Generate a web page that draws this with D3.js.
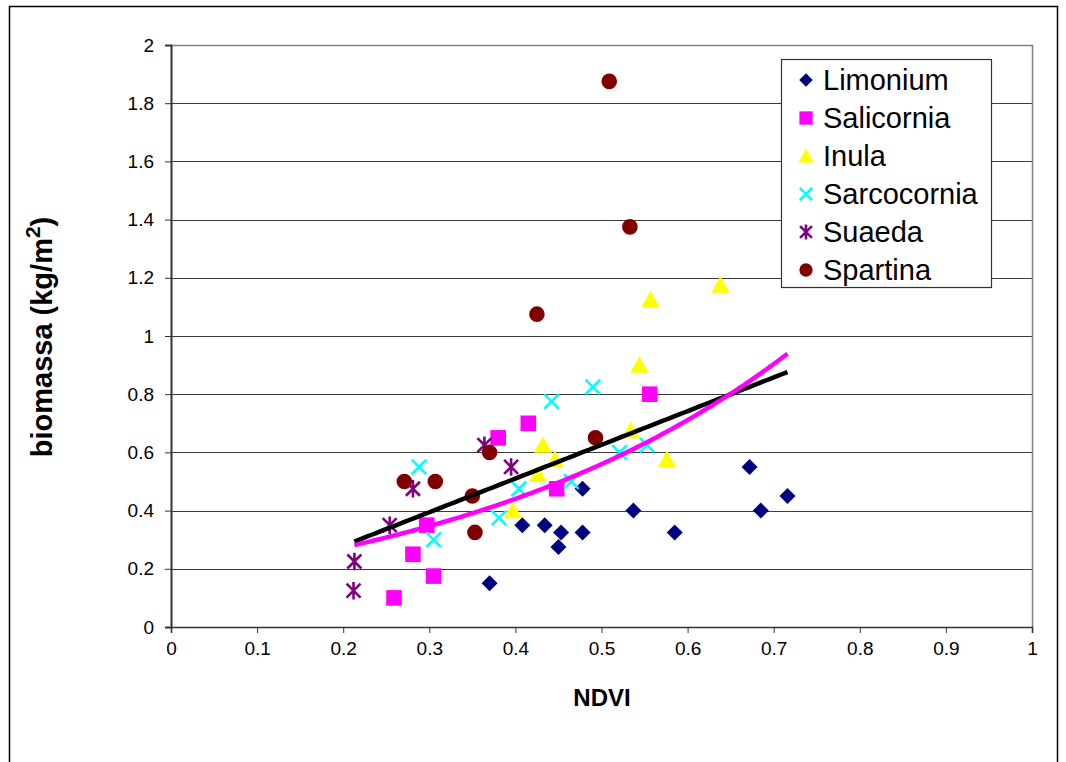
<!DOCTYPE html>
<html><head><meta charset="utf-8">
<script src="https://cdn.jsdelivr.net/npm/d3@7"></script>
<style>body{margin:0;background:#fff}svg{display:block}text{font-family:"Liberation Sans",Arial,sans-serif}</style>
</head><body><svg id="c" width="1066" height="762"></svg>
<script>
const seriesNames = ["Limonium","Salicornia","Inula","Sarcocornia","Suaeda","Spartina"];
const limoniumX = [0.370,0.408,0.434,0.450,0.453,0.478,0.478,0.537,0.585,0.672,0.685,0.716];
const limoniumY = [0.150,0.350,0.350,0.275,0.325,0.325,0.475,0.400,0.325,0.550,0.400,0.450];
const salicorniaX = [0.259,0.281,0.297,0.305,0.380,0.415,0.448,0.556];
const salicorniaY = [0.100,0.250,0.350,0.175,0.650,0.700,0.475,0.800];
const inulaX = [0.397,0.426,0.432,0.446,0.534,0.576,0.544,0.557,0.638];
const inulaY = [0.400,0.525,0.625,0.575,0.675,0.575,0.900,1.125,1.175];
const sarcocorniaX = [0.288,0.305,0.381,0.404,0.442,0.465,0.490,0.521,0.553];
const sarcocorniaY = [0.550,0.300,0.375,0.475,0.775,0.500,0.825,0.600,0.625];
const suaedaX = [0.213,0.212,0.254,0.281,0.364,0.395];
const suaedaY = [0.225,0.125,0.350,0.475,0.625,0.550];
const spartinaX = [0.271,0.307,0.350,0.353,0.370,0.493,0.509,0.533,0.425];
const spartinaY = [0.500,0.500,0.450,0.325,0.600,0.650,1.875,1.375,1.075];
const xTicks = [0,0.1,0.2,0.3,0.4,0.5,0.6,0.7,0.8,0.9,1];
const yTicks = [0,0.2,0.4,0.6,0.8,1,1.2,1.4,1.6,1.8,2];
// trendlines
const trendRange = [0.213, 0.716];
const linearTrend = {a: 0.047, b: 1.158};
const expTrend = {A: 0.169, k: 2.395};

const xs = [limoniumX,salicorniaX,inulaX,sarcocorniaX,suaedaX,spartinaX];
const ys = [limoniumY,salicorniaY,inulaY,sarcocorniaY,suaedaY,spartinaY];
const colors = ["#000080","#FF00FF","#FFFF00","#00FFFF","#800080","#800000"];
const shapes = ["diamond","square","triangle","x","star","circle"];

const svg = d3.select("#c");
const L=171, R=1032, T=45, B=627;
const x = d3.scaleLinear().domain([0,1]).range([L,R]);
const y = d3.scaleLinear().domain([0,2]).range([B,T]);

// outer frame
svg.append("rect").attr("x",9.5).attr("y",6.5).attr("width",1048).attr("height",770)
  .attr("fill","none").attr("stroke","#000").attr("stroke-width",1.5);

// gridlines
svg.append("g").selectAll("line").data(yTicks.filter(d=>d>0 && d<2)).join("line")
  .attr("x1",L).attr("x2",R).attr("y1",d=>Math.round(y(d))+0.5).attr("y2",d=>Math.round(y(d))+0.5)
  .attr("stroke","#3a3a3a").attr("stroke-width",1.2);
// plot border top/right
svg.append("path").attr("d",`M${L},${T+0.5}H${R+0.5}V${B}`).attr("fill","none").attr("stroke","#808080").attr("stroke-width",1.5);

// axes
const xAxis = d3.axisBottom(x).tickValues(xTicks).tickSize(6).tickPadding(9).tickFormat(d3.format("~g"));
const gx = svg.append("g").attr("transform",`translate(0,${B})`).call(xAxis);
gx.select(".domain").attr("stroke","#333").attr("stroke-width",1.6);
gx.selectAll(".tick line").attr("stroke","#333");
gx.selectAll("text").attr("font-size",19).attr("fill","#000").style("font-family","Liberation Sans, Arial, sans-serif");
const yAxis = d3.axisLeft(y).tickValues(yTicks).tickSize(6).tickPadding(11).tickFormat(d3.format("~g"));
const gy = svg.append("g").attr("transform",`translate(${L},0)`).call(yAxis);
gy.select(".domain").attr("stroke","#333").attr("stroke-width",2);
gy.selectAll(".tick line").attr("stroke","#333");
gy.selectAll("text").attr("font-size",19).attr("fill","#000").style("font-family","Liberation Sans, Arial, sans-serif");

// axis titles
svg.append("text").attr("x",602).attr("y",706).attr("text-anchor","middle")
  .attr("font-size",24).attr("font-weight","bold").text("NDVI");
const yt = svg.append("text").attr("transform","translate(52,337) rotate(-90)").attr("text-anchor","middle")
  .attr("font-size",29).attr("font-weight","bold");
yt.append("tspan").text("biomassa (kg/m");
yt.append("tspan").attr("dy",-12).attr("font-size",21).text("2");
yt.append("tspan").attr("dy",12).text(")");

function markerPath(shape, s){
  switch(shape){
    case "diamond": return `M0,${-s}L${s},0L0,${s}L${-s},0Z`;
    case "square": return `M${-s},${-s}H${s}V${s}H${-s}Z`;
    case "triangle": return `M0,${-s}L${s},${s*0.85}L${-s},${s*0.85}Z`;
    case "x": return `M${-s},${-s}L${s},${s}M${-s},${s}L${s},${-s}`;
    case "star": return `M${-s},${-s}L${s},${s}M${-s},${s}L${s},${-s}M0,${-s*1.25}V${s*1.25}`;
    case "circle": return `M${-s},0A${s},${s} 0 1,0 ${s},0A${s},${s} 0 1,0 ${-s},0Z`;
  }
}
const sizes = {diamond:8,square:7.8,triangle:9,x:7.3,star:7,circle:7.8};
function styleMarker(sel, i){
  const sh = shapes[i];
  if(sh==="x"||sh==="star") sel.attr("fill","none").attr("stroke",colors[i]).attr("stroke-width",2.6);
  else sel.attr("fill",colors[i]).attr("stroke","none");
}

// trendlines
const tx = d3.range(0,101).map(i=>trendRange[0]+(trendRange[1]-trendRange[0])*i/100);
const line = d3.line().x(d=>x(d[0])).y(d=>y(d[1]));

// points
const pts = svg.append("g");
seriesNames.forEach((n,i)=>{
  const data = xs[i].map((v,j)=>[v, ys[i][j]]);
  pts.append("g").selectAll("path").data(data).join("path")
    .attr("transform",d=>`translate(${x(d[0])},${y(d[1])})`)
    .attr("d",markerPath(shapes[i],sizes[shapes[i]]))
    .call(s=>styleMarker(s,i));
});

svg.append("path").attr("d",line(tx.map(v=>[v, linearTrend.a+linearTrend.b*v])))
  .attr("fill","none").attr("stroke","#000").attr("stroke-width",4.5);
svg.append("path").attr("d",line(tx.map(v=>[v, expTrend.A*Math.exp(expTrend.k*v)])))
  .attr("fill","none").attr("stroke","#FF00FF").attr("stroke-width",4.5);

// legend
const lg = svg.append("g");
lg.append("rect").attr("x",781.5).attr("y",59.5).attr("width",210).attr("height",228)
  .attr("fill","#fff").attr("stroke","#333").attr("stroke-width",1.2);
seriesNames.forEach((n,i)=>{
  const cy = 80 + i*38;
  lg.append("path").attr("transform",`translate(806,${cy})`)
    .attr("d",markerPath(shapes[i], sizes[shapes[i]]*0.85)).call(s=>styleMarker(s,i));
  lg.append("text").attr("x",823).attr("y",cy+10).attr("font-size",29).text(n);
});
</script></body></html>
